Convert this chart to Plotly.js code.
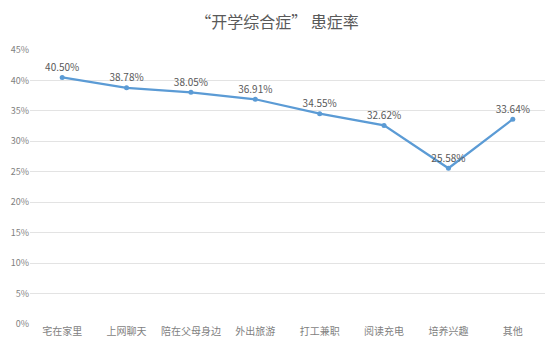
<!DOCTYPE html>
<html>
<head>
<meta charset="utf-8">
<script src="https://cdn.plot.ly/plotly-3.0.1.min.js"></script>
<style>html,body{margin:0;padding:0;background:#fff;}#chart{width:554px;height:351px;}</style>
</head>
<body>
<div id="chart"></div>
<script>
const categories = ["宅在家里", "上网聊天", "陪在父母身边", "外出旅游", "打工兼职", "阅读充电", "培养兴趣", "其他"];
const rates = [40.50, 38.78, 38.05, 36.91, 34.55, 32.62, 25.58, 33.64];
const yTicks = [0, 5, 10, 15, 20, 25, 30, 35, 40, 45];
const titleText = "“开学综合症” 患症率";

const font = "'Noto Sans CJK SC', 'Microsoft YaHei', sans-serif";
const trace = {
  type: "scatter",
  mode: "lines+markers+text",
  x: categories,
  y: rates,
  line: {color: "#5b9bd5", width: 2.25},
  marker: {color: "#5b9bd5", size: 5},
  text: rates.map(v => v.toFixed(2) + "%"),
  textposition: "top center",
  textfont: {family: font, size: 10, color: "#595959"},
  cliponaxis: false,
  hoverinfo: "skip"
};
const layout = {
  width: 554, height: 351,
  margin: {l: 30, r: 9, t: 50, b: 27},
  paper_bgcolor: "#fff", plot_bgcolor: "#fff",
  showlegend: false,
  title: {text: titleText, x: 0.5, xanchor: "center", y: 0.935, yanchor: "middle",
          font: {family: font, size: 16, color: "#595959"}},
  xaxis: {
    type: "category", showgrid: false, zeroline: false, showline: false,
    ticks: "", tickfont: {family: font, size: 10, color: "#7f7f7f"},
    range: [-0.5, categories.length - 0.5], fixedrange: true
  },
  yaxis: {
    range: [0, 45], tickvals: yTicks, ticktext: yTicks.map(v => v + "%"),
    showgrid: true, gridcolor: "#e3e3e3", gridwidth: 1,
    zeroline: false, showline: false, ticks: "",
    tickfont: {family: font, size: 9, color: "#7f7f7f"}, fixedrange: true
  }
};
Plotly.newPlot("chart", [trace], layout, {staticPlot: true, displayModeBar: false});
</script>
</body>
</html>
